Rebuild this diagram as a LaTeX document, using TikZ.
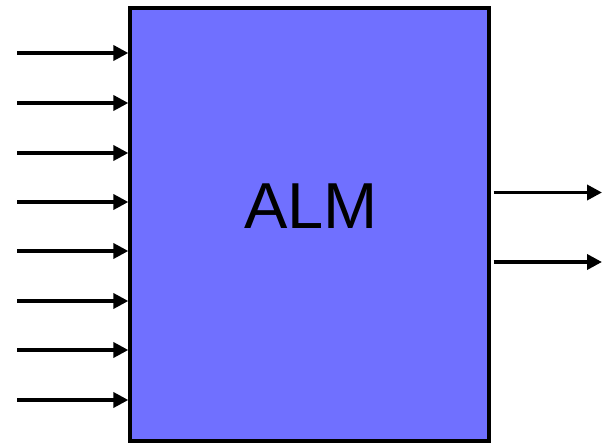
\documentclass[tikz,border=0pt]{standalone}
\usepackage{fontspec}
\setmainfont{Liberation Sans}
\usetikzlibrary{arrows.meta}
\definecolor{almfill}{RGB}{112,112,255}
\begin{document}
\begin{tikzpicture}[x=1pt,y=-1pt,
  block/.style={draw=black,line width=4pt,fill=almfill,minimum width=358.7pt,minimum height=433pt,inner sep=0pt},
  sig/.style={line width=3.6pt,-{Triangle[length=15pt,width=15pt]}}]
\useasboundingbox (0,0) rectangle (602,443);
\node[block] (alm) at (309.7,224.3) {};
\node at (311,206) {\fontsize{65}{78}\selectfont ALM};
% input lines on the left
\foreach \i/\yy in {1/53,2/103,3/153,4/202,5/251,6/301,7/350,8/400}{
  \coordinate (in\i) at (17,\yy);
  \draw[sig] (in\i) -- (in\i -| alm.west);
}
% output lines on the right
\foreach \i/\yy in {1/192.5,2/262}{
  \coordinate (out\i) at (602,\yy);
  \draw[sig] ([xshift=2.5pt]out\i -| alm.east) -- (out\i);
}
\end{tikzpicture}
\end{document}
